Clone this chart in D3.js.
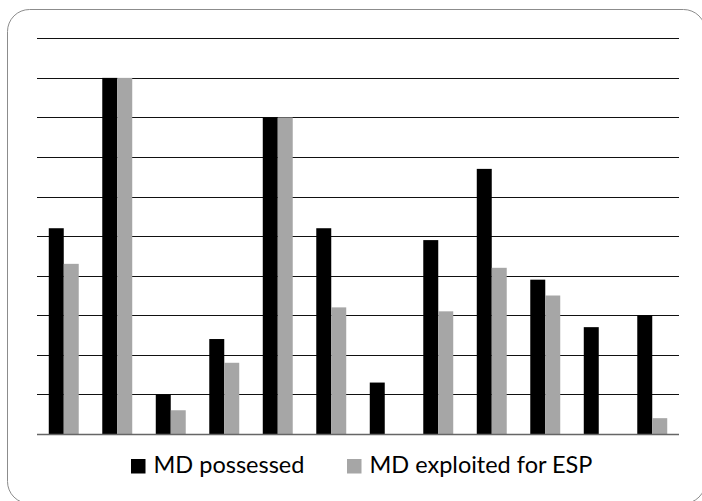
<!DOCTYPE html>
<html>
<head>
<meta charset="utf-8">
<script src="https://cdn.jsdelivr.net/npm/d3@7"></script>
<style>
  html, body { margin: 0; padding: 0; background: #fff; }
  svg { display: block; }
</style>
</head>
<body>
<svg id="chart" width="702" height="501"></svg>
<script>
const categories = ["1","2","3","4","5","6","7","8","9","10","11","12"];
const seriesNames = ["MD possessed", "MD exploited for ESP"];
const mdPossessed = [5.2, 9.0, 1.0, 2.4, 8.0, 5.2, 1.3, 4.9, 6.7, 3.9, 2.7, 3.0];
const mdExploited = [4.3, 9.0, 0.6, 1.8, 8.0, 3.2, 0, 3.1, 4.2, 3.5, 0, 0.4];
const yTicks = [0,1,2,3,4,5,6,7,8,9,10];
const colors = ["#000000", "#a6a6a6"];

(function () {
const svg = d3.select("#chart");

// outer frame
svg.append("rect")
  .attr("x", 7.5).attr("y", 9.5)
  .attr("width", 698).attr("height", 494)
  .attr("rx", 22).attr("ry", 22)
  .attr("fill", "#fff")
  .attr("stroke", "#8c8c8c").attr("stroke-width", 1);

const pLeft = 37, pRight = 679, pTop = 38.3, pBottom = 434;

const y = d3.scaleLinear().domain([0, 10]).range([pBottom, pTop]);
const x0 = d3.scaleBand().domain(categories).range([pLeft, pRight])
  .paddingInner(0.44).paddingOuter(0.22);
const x1 = d3.scaleBand().domain(seriesNames).range([0, x0.bandwidth()]);

// gridlines
svg.append("g").selectAll("line")
  .data(yTicks.filter(d => d > 0))
  .join("line")
  .attr("x1", pLeft).attr("x2", pRight)
  .attr("y1", d => Math.round(y(d)) + 0.5).attr("y2", d => Math.round(y(d)) + 0.5)
  .attr("stroke", "#111").attr("stroke-width", 1.2);

const rows = categories.map((c, i) => ({ c, vals: [mdPossessed[i], mdExploited[i]] }));

svg.append("g").selectAll("g")
  .data(rows)
  .join("g")
  .attr("transform", d => `translate(${x0(d.c)},0)`)
  .selectAll("rect")
  .data(d => d.vals.map((v, j) => ({ s: seriesNames[j], v, j })))
  .join("rect")
  .attr("x", d => x1(d.s))
  .attr("width", x1.bandwidth())
  .attr("y", d => y(d.v))
  .attr("height", d => y(0) - y(d.v))
  .attr("fill", d => colors[d.j]);

// baseline axis
svg.append("line")
  .attr("x1", pLeft).attr("x2", pRight)
  .attr("y1", Math.round(y(0)) + 0.5).attr("y2", Math.round(y(0)) + 0.5)
  .attr("stroke", "#666").attr("stroke-width", 1.5);

// legend
const legendX = [131, 347];
const lg = svg.append("g").selectAll("g")
  .data(seriesNames)
  .join("g")
  .attr("transform", (d, i) => `translate(${legendX[i]},459)`);
lg.append("rect").attr("width", 14.5).attr("height", 14.5).attr("fill", (d, i) => colors[i]);
lg.append("text")
  .attr("x", 22.5).attr("y", 14)
  .attr("font-family", "Lato, 'Open Sans', sans-serif")
  .attr("font-size", 23.5)
  .attr("fill", "#000")
  .text(d => d);
})();
</script>
</body>
</html>
